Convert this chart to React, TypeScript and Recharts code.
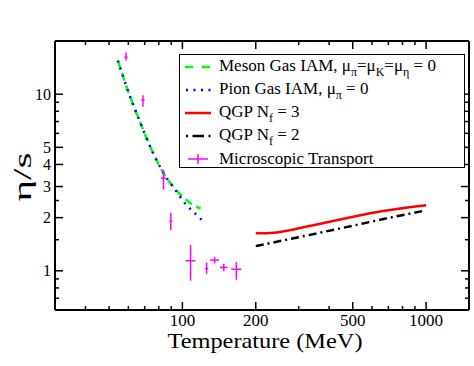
import { ComposedChart, Line, Scatter, XAxis, YAxis, ErrorBar, Legend } from "recharts";

const SERIF = '"Liberation Serif", "Times New Roman", serif';

// axis ticks (log scales)
const xTicks = [40, 50, 60, 70, 80, 90, 100, 200, 300, 400, 500, 600, 700, 800, 900, 1000];
const xLabels = [100, 200, 500, 1000];
const yTicks = [0.7, 0.8, 0.9, 1, 1.5, 2, 2.5, 3, 4, 5, 6, 7, 8, 9, 10];
const yLabels = [1, 2, 3, 4, 5, 10];

// series: T in MeV, eta = η/s
const mesonGas = [
  { T: 54.3, eta: 15.5 },
  { T: 60, eta: 10.3 },
  { T: 66.5, eta: 7.14 },
  { T: 74.2, eta: 4.95 },
  { T: 83.6, eta: 3.58 },
  { T: 93.9, eta: 2.88 },
  { T: 101.5, eta: 2.59 },
  { T: 109.9, eta: 2.37 },
  { T: 118.8, eta: 2.25 },
];

const pionGas = [
  { T: 54.3, eta: 15.5 },
  { T: 60, eta: 10.3 },
  { T: 66.5, eta: 7.14 },
  { T: 74.2, eta: 4.95 },
  { T: 83.6, eta: 3.58 },
  { T: 93.9, eta: 2.85 },
  { T: 104, eta: 2.35 },
  { T: 110, eta: 2.18 },
  { T: 117, eta: 2.01 },
  { T: 121, eta: 1.92 },
];

const qgpNf3 = [
  { T: 200, eta: 1.63 },
  { T: 237, eta: 1.645 },
  { T: 277, eta: 1.7 },
  { T: 324, eta: 1.78 },
  { T: 443, eta: 1.95 },
  { T: 605, eta: 2.13 },
  { T: 1000, eta: 2.35 },
];

const qgpNf2 = [
  { T: 200, eta: 1.38 },
  { T: 300, eta: 1.55 },
  { T: 500, eta: 1.8 },
  { T: 700, eta: 1.99 },
  { T: 1000, eta: 2.2 },
];

// dEta = [below, above], dT = half width
const transport = [
  { T: 58.7, eta: 16.2, dEta: [0.7, 1.0], dT: 0.9 },
  { T: 68.9, eta: 9.25, dEta: [0.77, 0.62], dT: 1.1 },
  { T: 83.6, eta: 3.35, dEta: [0.47, 0.39], dT: 2.1 },
  { T: 89.6, eta: 1.91, dEta: [0.21, 0.22], dT: 1.3 },
  { T: 108, eta: 1.14, dEta: [0.26, 0.26], dT: 5 },
  { T: 125.7, eta: 1.03, dEta: [0.07, 0.085], dT: 2 },
  { T: 135.5, eta: 1.15, dEta: [0.05, 0.05], dT: 5.8 },
  { T: 147.8, eta: 1.045, dEta: [0.05, 0.05], dT: 5.3 },
  { T: 166.5, eta: 1.02, dEta: [0.13, 0.1], dT: 7.9 },
];

const GREEN = "#00ff00";
const BLUE = "#0000ff";
const RED = "#ff0000";
const MAGENTA = "#ff00ff";

const BottomTick = (props: any) => {
  const { x, y, payload } = props;
  const major = xLabels.includes(payload.value);
  return (
    <g>
      <line x1={x} x2={x} y1={y} y2={y - (major ? 8 : 4)} stroke="#000" strokeWidth={1.5} />
      {major && (
        <text x={x} y={y + 16} textAnchor="middle" fontFamily={SERIF} fontSize={17} fill="#000">
          {payload.value}
        </text>
      )}
    </g>
  );
};

const TopTick = (props: any) => {
  const { x, y, payload } = props;
  const major = xLabels.includes(payload.value);
  return <line x1={x} x2={x} y1={y} y2={y + (major ? 8 : 4)} stroke="#000" strokeWidth={1.5} />;
};

const LeftTick = (props: any) => {
  const { x, y, payload } = props;
  const major = yLabels.includes(payload.value);
  return (
    <g>
      <line x1={x} x2={x + (major ? 8 : 4)} y1={y} y2={y} stroke="#000" strokeWidth={1.5} />
      {major && (
        <text x={x - 4} y={y + 5.5} textAnchor="end" fontFamily={SERIF} fontSize={16} fill="#000">
          {payload.value}
        </text>
      )}
    </g>
  );
};

const RightTick = (props: any) => {
  const { x, y, payload } = props;
  const major = yLabels.includes(payload.value);
  return <line x1={x} x2={x - (major ? 8 : 4)} y1={y} y2={y} stroke="#000" strokeWidth={1.5} />;
};

const noShape = () => <g />;

const Sub = ({ children }: { children: string }) => (
  <span style={{ fontSize: 12, position: "relative", top: 5 }}>{children}</span>
);

const legendRows = [
  {
    key: "meson",
    symbol: <line x1={0} x2={26} y1={6} y2={6} stroke={GREEN} strokeWidth={2.5} strokeDasharray="8 9" />,
    label: (
      <>
        Meson Gas IAM, μ<Sub>π</Sub>=μ<Sub>K</Sub>=μ<Sub>η</Sub> = 0
      </>
    ),
  },
  {
    key: "pion",
    symbol: <line x1={1} x2={26} y1={6} y2={6} stroke={BLUE} strokeWidth={2.5} strokeDasharray="2 5.5" />,
    label: (
      <>
        Pion Gas IAM, μ<Sub>π</Sub> = 0
      </>
    ),
  },
  {
    key: "nf3",
    symbol: <line x1={0} x2={26} y1={6} y2={6} stroke={RED} strokeWidth={2.5} />,
    label: (
      <>
        QGP N<Sub>f</Sub> = 3
      </>
    ),
  },
  {
    key: "nf2",
    symbol: <line x1={1} x2={26} y1={6} y2={6} stroke="#000" strokeWidth={2.5} strokeDasharray="2 4.5 11.5 4.5 2 20" />,
    label: (
      <>
        QGP N<Sub>f</Sub> = 2
      </>
    ),
  },
  {
    key: "micro",
    symbol: (
      <g stroke={MAGENTA} strokeWidth={1.5}>
        <line x1={3} x2={23} y1={6} y2={6} />
        <line x1={13} x2={13} y1={1} y2={11} />
      </g>
    ),
    label: <>Microscopic Transport</>,
  },
];

const LegendBox = () => (
  <div
    style={{
      width: 286,
      height: 114,
      boxSizing: "border-box",
      border: "1.5px solid #000",
      background: "#fff",
      fontFamily: SERIF,
      fontSize: 17,
      color: "#000",
      paddingTop: 0,
    }}
  >
    {legendRows.map((r) => (
      <div key={r.key} style={{ height: 23, display: "flex", alignItems: "center", whiteSpace: "nowrap" }}>
        <svg width={26} height={12} style={{ marginLeft: 5, marginRight: 8, flex: "none" }}>
          {r.symbol}
        </svg>
        <span style={{ lineHeight: "17px" }}>{r.label}</span>
      </div>
    ))}
  </div>
);

const XTitle = () => (
  <text
    x={265}
    y={348}
    textAnchor="middle"
    fontFamily={SERIF}
    fontSize={21}
    textLength={195}
    lengthAdjust="spacingAndGlyphs"
    fill="#000"
  >
    Temperature (MeV)
  </text>
);

const YTitle = () => (
  <text
    x={31}
    y={177}
    transform="rotate(-90 31 177)"
    textAnchor="middle"
    fontFamily={SERIF}
    fontSize={26}
    textLength={49}
    lengthAdjust="spacingAndGlyphs"
    fill="#000"
  >
    η/s
  </text>
);

export default function App() {
  return (
    <div style={{ position: "absolute", left: 0, top: 0, background: "#fff" }}>
      <ComposedChart width={474} height={366} margin={{ top: 0, right: 0, bottom: 0, left: 0 }}>
        <XAxis
          dataKey="T"
          type="number"
          scale="log"
          domain={[30, 1500]}
          allowDataOverflow
          ticks={xTicks}
          interval={0}
          height={56}
          tickSize={0}
          tickMargin={0}
          tick={BottomTick}
          axisLine={{ stroke: "#000", strokeWidth: 2 }}
          label={{ content: XTitle }}
        />
        <XAxis
          xAxisId="top"
          orientation="top"
          dataKey="T"
          type="number"
          scale="log"
          domain={[30, 1500]}
          allowDataOverflow
          ticks={xTicks}
          interval={0}
          height={41}
          tickSize={0}
          tickMargin={0}
          tick={TopTick}
          axisLine={{ stroke: "#000", strokeWidth: 2 }}
        />
        <YAxis
          dataKey="eta"
          type="number"
          scale="log"
          domain={[0.6, 20]}
          allowDataOverflow
          ticks={yTicks}
          interval={0}
          width={55}
          tickSize={0}
          tickMargin={0}
          tick={LeftTick}
          axisLine={{ stroke: "#000", strokeWidth: 2 }}
          label={{ content: YTitle }}
        />
        <YAxis
          yAxisId="right"
          orientation="right"
          dataKey="eta"
          type="number"
          scale="log"
          domain={[0.6, 20]}
          allowDataOverflow
          ticks={yTicks}
          interval={0}
          width={5}
          tickSize={0}
          tickMargin={0}
          tick={RightTick}
          axisLine={{ stroke: "#000", strokeWidth: 2 }}
        />
        <Legend
          content={LegendBox}
          layout="horizontal"
          verticalAlign="middle"
          wrapperStyle={{ position: "absolute", left: 179, top: 54, width: 286, height: 114 }}
        />
        <Line
          data={mesonGas}
          dataKey="eta"
          type="monotone"
          stroke={GREEN}
          strokeWidth={2.5}
          strokeDasharray="8 5"
          dot={false}
          isAnimationActive={false}
        />
        <Line
          data={pionGas}
          dataKey="eta"
          type="monotone"
          stroke={BLUE}
          strokeWidth={2.5}
          strokeDasharray="2 5.5"
          dot={false}
          isAnimationActive={false}
        />
        <Line
          data={qgpNf3}
          dataKey="eta"
          type="monotone"
          stroke={RED}
          strokeWidth={2.5}
          dot={false}
          isAnimationActive={false}
        />
        <Line
          data={qgpNf2}
          dataKey="eta"
          type="monotone"
          stroke="#000"
          strokeWidth={2.5}
          strokeDasharray="8 4 2 4"
          dot={false}
          isAnimationActive={false}
        />
        <Scatter data={transport} dataKey="eta" fill={MAGENTA} shape={noShape} isAnimationActive={false}>
          <ErrorBar dataKey="dEta" direction="y" width={0} stroke={MAGENTA} strokeWidth={1.5} />
          <ErrorBar dataKey="dT" direction="x" width={0} stroke={MAGENTA} strokeWidth={1.5} />
        </Scatter>
      </ComposedChart>
    </div>
  );
}
